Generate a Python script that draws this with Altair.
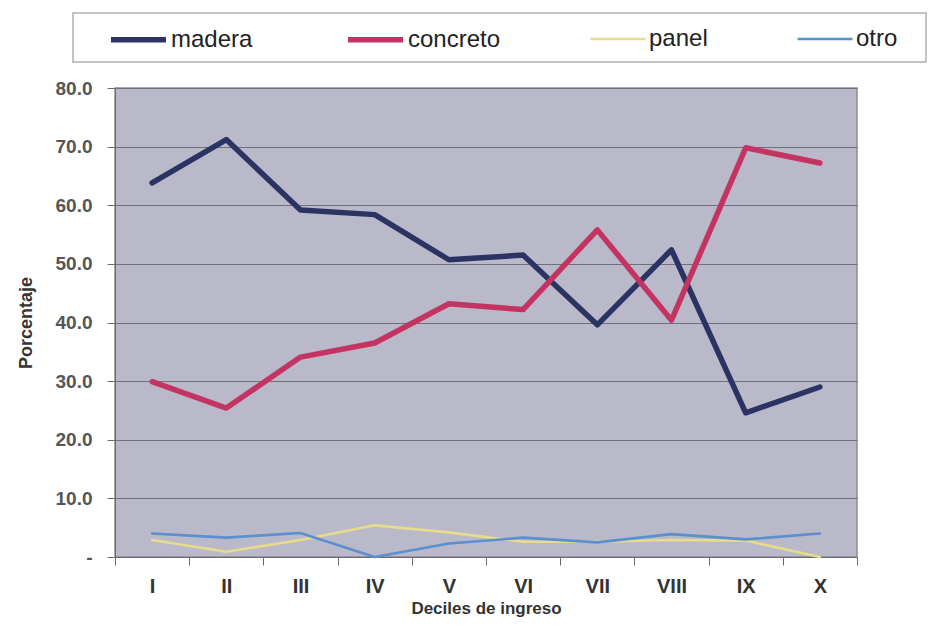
import altair as alt
import pandas as pd

deciles = ["I", "II", "III", "IV", "V", "VI", "VII", "VIII", "IX", "X"]
madera = [63.8, 71.2, 59.2, 58.4, 50.7, 51.5, 39.6, 52.4, 24.6, 29.0]
concreto = [29.9, 25.4, 34.1, 36.5, 43.2, 42.2, 55.8, 40.4, 69.8, 67.2]
panel = [2.9, 0.9, 2.9, 5.4, 4.2, 2.6, 2.6, 2.9, 2.8, 0.0]
otro = [4.0, 3.3, 4.1, 0.0, 2.3, 3.3, 2.5, 3.9, 3.0, 4.0]

series_names = ["madera", "concreto", "panel", "otro"]
series_colors = ["#2b3363", "#c43462", "#e6dc8a", "#5a8fd0"]
series_widths = [5.5, 5.5, 2.6, 2.6]

rows = []
for name, vals in zip(series_names, [madera, concreto, panel, otro]):
    for d, v in zip(deciles, vals):
        rows.append({"decil": d, "valor": v, "serie": name})
df = pd.DataFrame(rows)

FONT = "Liberation Sans"

legend_opts = dict(
    title=None,
    orient="none",
    legendX=-7,
    legendY=-79,
    direction="horizontal",
    symbolType="stroke",
    symbolSize=3025,
    labelFontSize=24,
    labelFont=FONT,
    labelColor="#222222",
    labelOffset=2,
    columnPadding=84,
    padding=0,
)

lines = alt.Chart(df).mark_line(strokeCap="round", strokeJoin="round").encode(
    x=alt.X(
        "decil:N",
        sort=deciles,
        bandPosition=0.5,
        scale=alt.Scale(type="band", paddingInner=0, paddingOuter=0),
        axis=alt.Axis(
            title="Deciles de ingreso",
            labelAngle=0,
            tickBand="extent",
            tickSize=8,
            labelPadding=11,
            labelFontSize=20,
            labelFontWeight="bold",
            labelColor="#333333",
            titleFontSize=17,
            titleFontWeight="bold",
            titleColor="#333333",
            titlePadding=4,
            domainColor="#6a6a70",
            tickColor="#6a6a70",
            grid=False,
        ),
    ),
    y=alt.Y(
        "valor:Q",
        scale=alt.Scale(domain=[0, 80], nice=False),
        axis=alt.Axis(
            title="Porcentaje",
            values=[0, 10, 20, 30, 40, 50, 60, 70, 80],
            labelExpr="datum.value == 0 ? '-' : format(datum.value, '.1f')",
            tickSize=8,
            labelPadding=15,
            labelFontSize=19,
            labelFontWeight="bold",
            labelColor="#555555",
            titleFontSize=18,
            titleFontWeight="bold",
            titleColor="#333333",
            titlePadding=20,
            domainColor="#6a6a70",
            tickColor="#6a6a70",
            grid=True,
            gridColor="#707078",
            gridWidth=1.2,
        ),
    ),
    color=alt.Color(
        "serie:N",
        sort=series_names,
        scale=alt.Scale(domain=series_names, range=series_colors),
        legend=alt.Legend(**legend_opts),
    ),
    strokeWidth=alt.StrokeWidth(
        "serie:N",
        sort=series_names,
        scale=alt.Scale(type="ordinal", domain=series_names, range=series_widths),
        legend=alt.Legend(**legend_opts),
    ),
)

frame = alt.Chart(pd.DataFrame({"k": [0]})).mark_rect(
    fill="white", stroke="#b0b0b0", strokeWidth=1.5, clip=False
).encode(
    x=alt.value(-42), x2=alt.value(811), y=alt.value(-75), y2=alt.value(-26)
)

chart = alt.layer(frame, lines).properties(
    width=742,
    height=469,
    padding={"left": 115, "top": 88, "right": 80, "bottom": 81},
    autosize=alt.AutoSizeParams(type="none"),
    background="white",
).configure_view(
    fill="#b9b9c9", stroke="#8c8c92", strokeWidth=1.5
).configure_axis(
    labelFont=FONT, titleFont=FONT
)

chart.save("out.html", embed_options={"renderer": "svg", "actions": False})
